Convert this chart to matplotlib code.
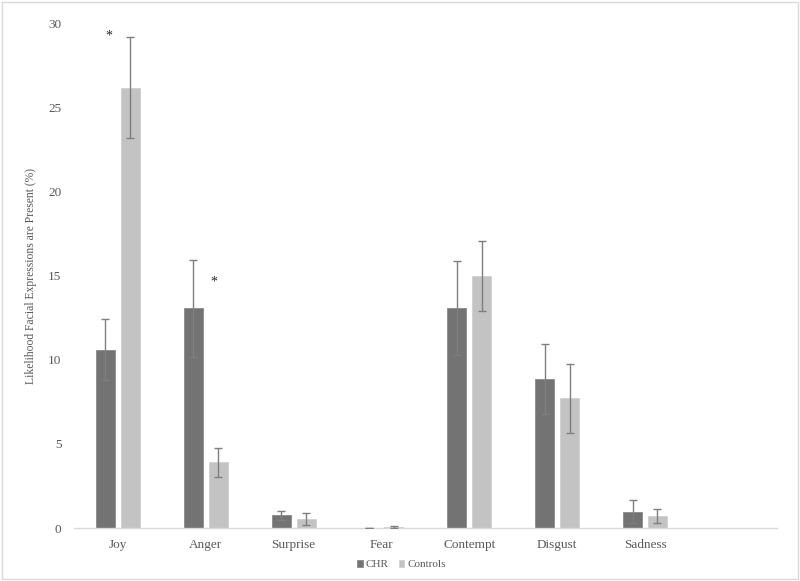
import numpy as np
import matplotlib.pyplot as plt
from matplotlib.patches import Rectangle

# emotion categories (last slot is empty in the original chart)
categories = ["Joy", "Anger", "Surprise", "Fear", "Contempt", "Disgust", "Sadness", ""]

chr_vals = [10.6, 13.05, 0.75, 0.02, 13.07, 8.85, 0.97, 0]
chr_err = [1.8, 2.9, 0.25, 0.0, 2.8, 2.1, 0.68, 0]
ctrl_vals = [26.15, 3.9, 0.55, 0.08, 14.97, 7.7, 0.69, 0]
ctrl_err = [3.0, 0.86, 0.37, 0.05, 2.08, 2.03, 0.41, 0]

# significance markers: (category index, x offset, height)
stars = [(0, -0.1, 29.2), (1, 0.09, 14.6)]

plt.rcParams['font.family'] = ['Liberation Serif', 'DejaVu Serif']
text_col = "#595959"

fig = plt.figure(figsize=(8, 5.81), dpi=100)
ax = fig.add_axes([0.0925, 0.0912, 0.8785, 0.8692])

x = np.arange(len(categories))
w = 0.216
off = 0.142

n = 7  # bars only for the real categories
ax.bar(x[:n] - off, chr_vals[:n], w, color="#737373", edgecolor="#8a8a8a", linewidth=0.6,
       label="CHR", zorder=2)
ax.bar(x[:n] + off, ctrl_vals[:n], w, color="#c3c3c3", edgecolor="#d0d0d0", linewidth=0.6,
       label="Controls", zorder=2)
ax.errorbar(x[:n] - off, chr_vals[:n], yerr=chr_err[:n], fmt="none", ecolor="#7f7f7f",
            elinewidth=1, capsize=3, capthick=1, zorder=3)
ax.errorbar(x[:n] + off, ctrl_vals[:n], yerr=ctrl_err[:n], fmt="none", ecolor="#7f7f7f",
            elinewidth=1, capsize=3, capthick=1, zorder=3)

for i, dx, h in stars:
    ax.text(x[i] + dx, h, "*", ha="center", va="center", fontsize=10, color="#262626")

ax.set_xlim(-0.5, len(categories) - 0.5)
ax.set_ylim(0, 30)
ax.set_yticks(range(0, 31, 5))
ax.set_xticks(x)
ax.set_xticklabels(categories)
ax.tick_params(axis="both", length=0, labelsize=9.5, colors=text_col)
ax.tick_params(axis="y", pad=9)
ax.tick_params(axis="x", pad=8)

for s in ["top", "right", "left"]:
    ax.spines[s].set_visible(False)
ax.spines["bottom"].set_color("#d9d9d9")
ax.spines["bottom"].set_linewidth(1)

ax.set_ylabel("Likelihood Facial Expressions are Present (%)", fontsize=8.4,
              color=text_col, labelpad=8)

leg = fig.legend(loc="center", bbox_to_anchor=(0.502, 0.028), ncol=2, frameon=False,
                 fontsize=8, handlelength=0.5, handleheight=0.5, handletextpad=0.3,
                 columnspacing=0.9)
for t in leg.get_texts():
    t.set_color(text_col)

fig.patches.append(Rectangle((0.002, 0.003), 0.996, 0.994, transform=fig.transFigure,
                             fill=False, edgecolor="#d9d9d9", linewidth=1))

fig.savefig("out.png", dpi=100)
